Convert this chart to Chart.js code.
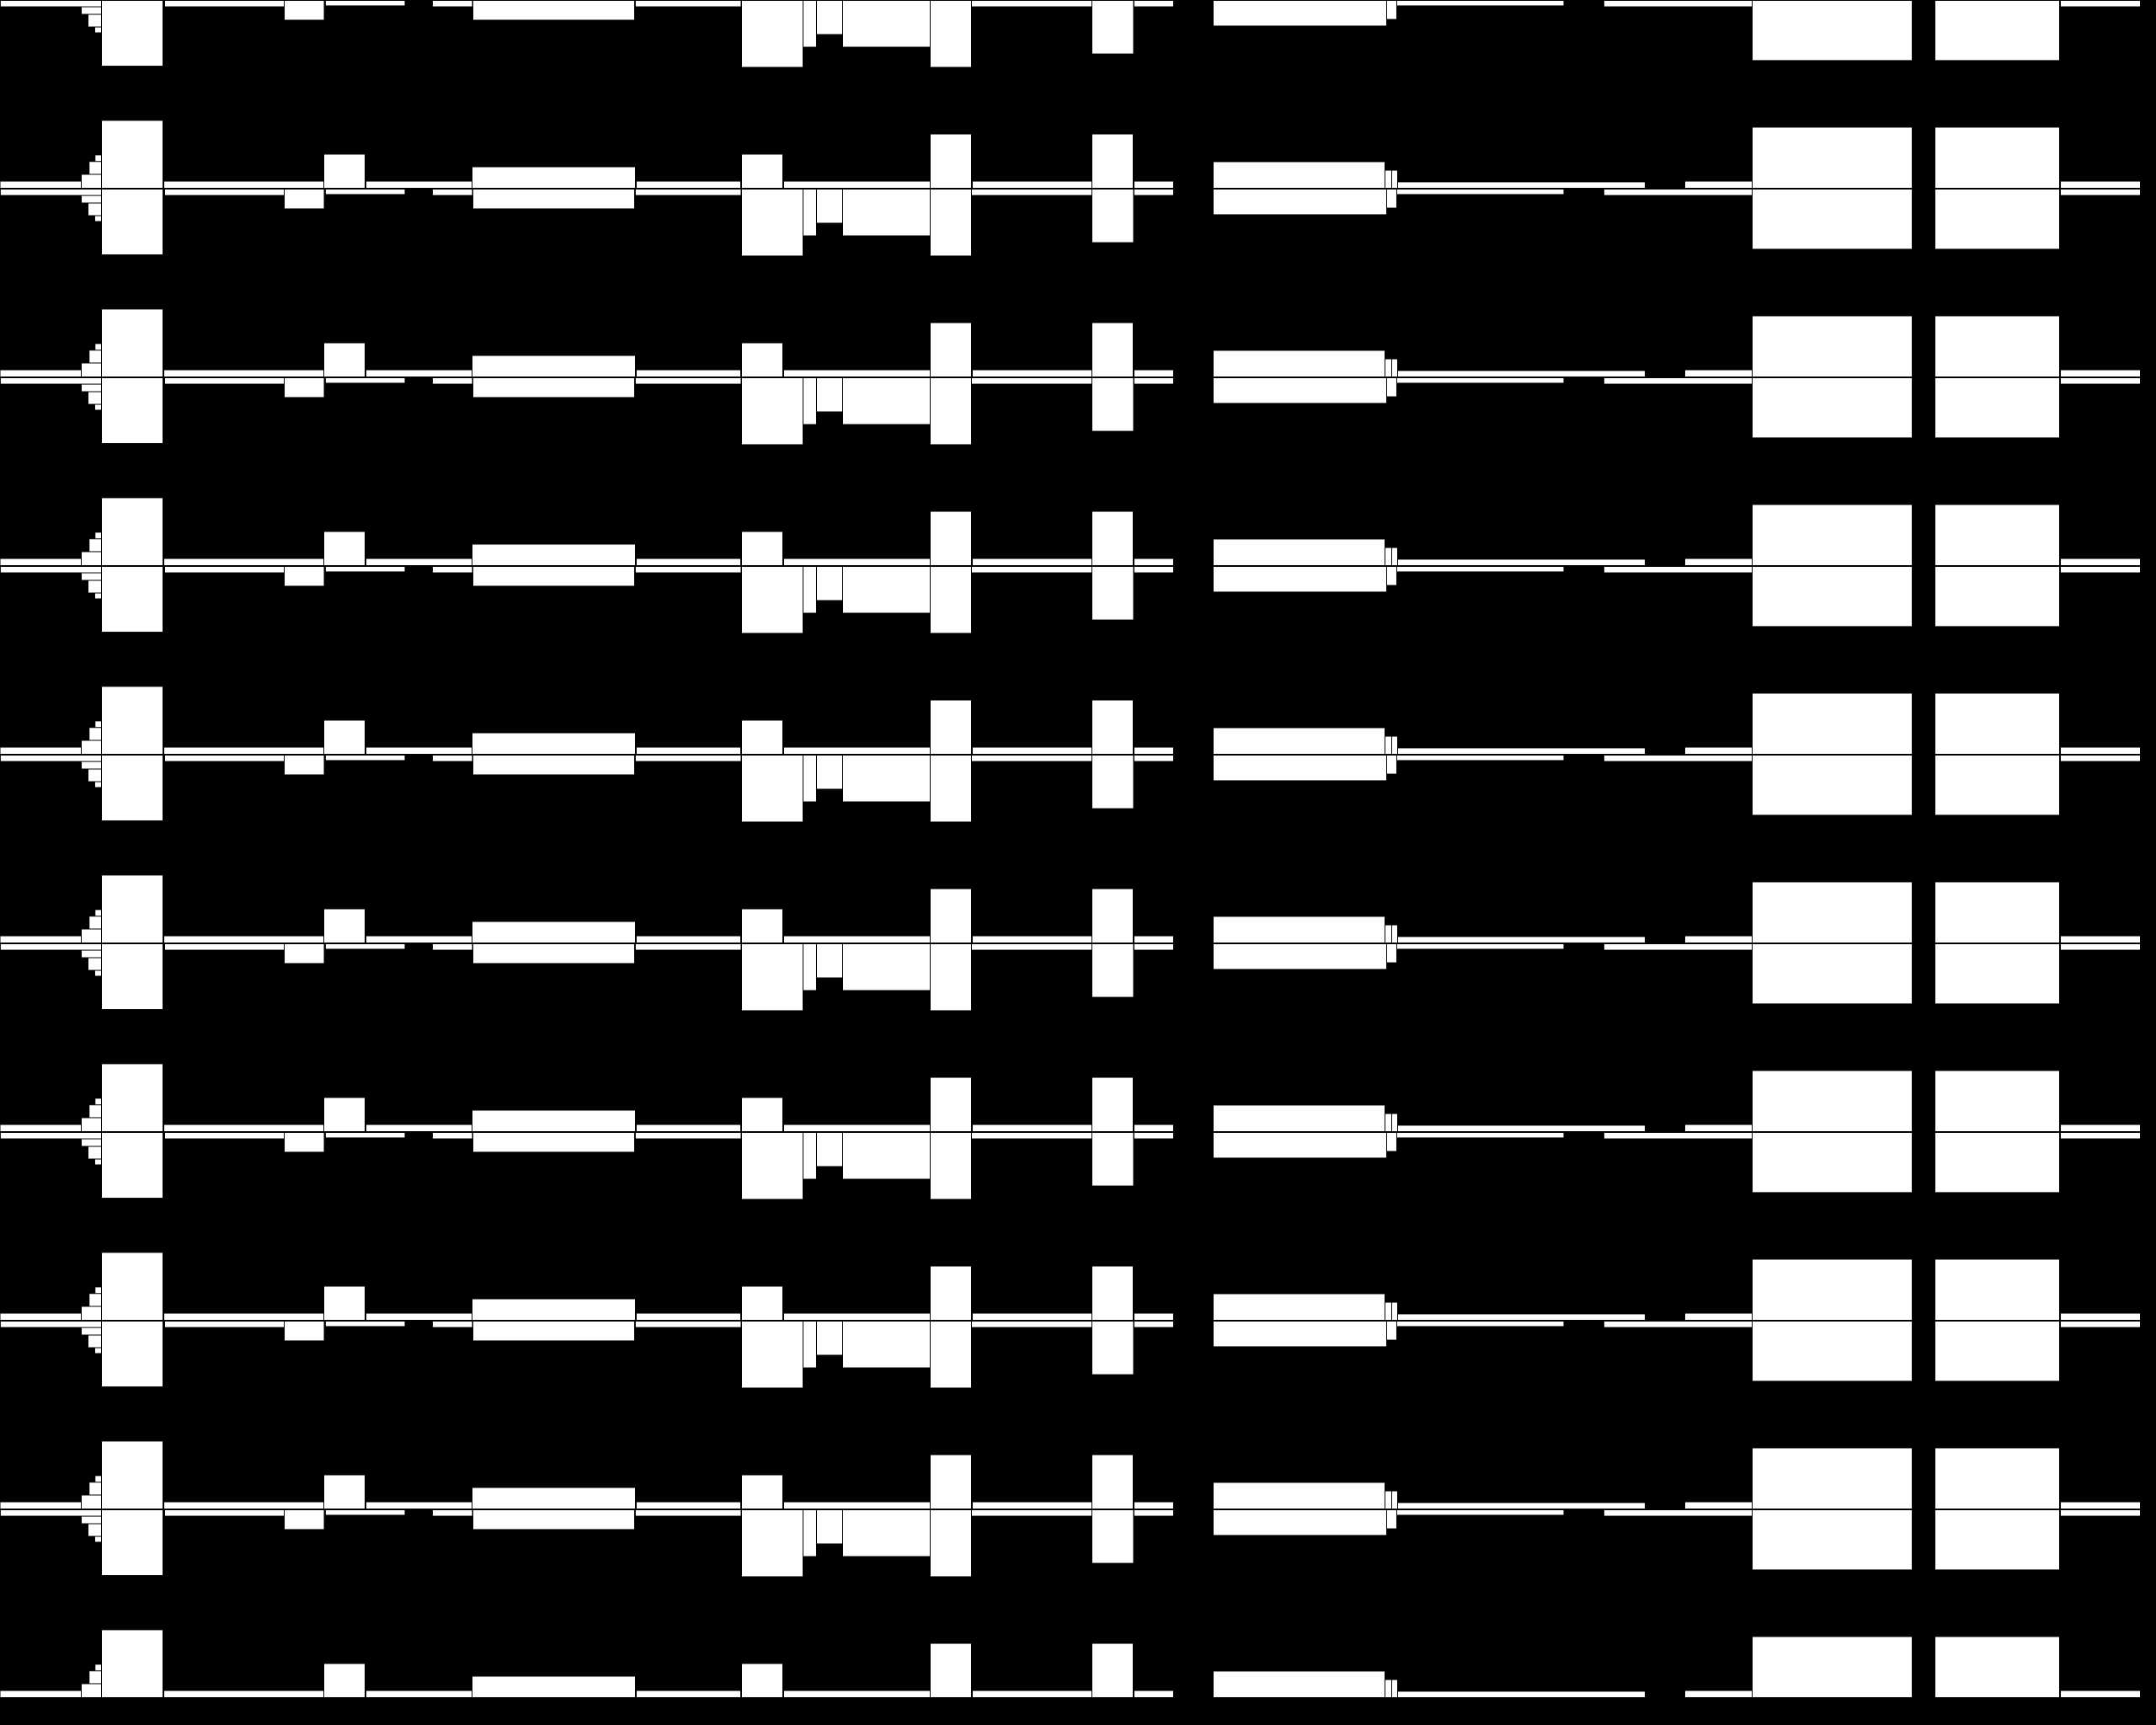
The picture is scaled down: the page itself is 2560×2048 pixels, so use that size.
<!DOCTYPE html>
<html>
<head>
<meta charset="utf-8">
<script src="https://cdn.jsdelivr.net/npm/chart.js@4"></script>
<style>
  html, body { margin: 0; padding: 0; background: #000; }
  canvas { display: block; background: #000; }
</style>
</head>
<body>
<canvas id="chart" width="2560" height="2048"></canvas>
<script>
// ---- data ----
// nine identical panels stacked vertically
const panels = ['1', '2', '3', '4', '5', '6', '7', '8', '9'];

// upward bars: start, end (x units) and height (panel units, 0-100)
const upStart  = [0, 9.65, 10.58, 11.28, 12.05, 19.45, 38.45, 43.45, 56.05, 75.55, 88.05, 93.05, 110.45, 115.45, 129.65, 134.65, 144.05, 164.45, 165.25, 165.95, 200.05, 208.05, 229.75, 244.65];
const upEnd    = [9.65, 12.05, 12.05, 12.05, 19.35, 38.45, 43.35, 56.05, 75.45, 87.95, 92.95, 110.45, 115.35, 129.65, 134.55, 139.35, 164.45, 165.25, 165.95, 195.35, 208.05, 227.05, 244.55, 254.15];
const upHeight = [4.0, 7.6, 14.4, 17.9, 36.2, 4.0, 18.3, 4.0, 11.6, 4.0, 18.3, 4.0, 29.0, 4.0, 29.0, 4.0, 14.3, 9.8, 9.8, 3.6, 4.0, 32.6, 32.6, 4.0];

// downward bars: start, end (x units) and depth (panel units, 0-100)
const downStart = [0, 9.65, 10.45, 11.25, 12.05, 19.55, 33.75, 38.6, 51.3, 56.15, 75.4, 88.05, 95.35, 96.95, 100.05, 110.45, 115.35, 129.65, 134.65, 144.05, 164.65, 165.85, 190.4, 208.05, 229.75, 244.65];
const downEnd   = [12.05, 12.05, 12.05, 12.05, 19.35, 33.75, 38.5, 48.1, 56.1, 75.35, 88.0, 95.35, 96.95, 100.05, 110.45, 115.35, 129.65, 134.6, 139.35, 164.65, 165.85, 185.7, 208.05, 227.05, 244.55, 254.15];
const downDepth = [3.6, 7.6, 14.3, 17.4, 35.1, 3.6, 10.7, 3.1, 3.6, 10.7, 3.6, 35.7, 25.0, 18.3, 25.0, 35.7, 3.6, 28.6, 3.6, 13.8, 10.3, 3.1, 3.6, 32.1, 32.1, 3.6];

const xRange = [0, 256];
const panelRange = [0, 100];

// ---- build chart ----
function barOutline(x0, x1, v) {
  return [{x: x0, y: 0}, {x: x0, y: v}, {x: x1, y: v}, {x: x1, y: 0}];
}

const barStyle = {
  backgroundColor: '#ffffff',
  borderColor: '#000000',
  borderWidth: 1,
  fill: 'origin',
  pointRadius: 0,
  pointHoverRadius: 0,
  tension: 0
};

const scales = {
  x: {type: 'linear', min: xRange[0], max: xRange[1], display: false}
};
const datasets = [];

panels.forEach((p, k) => {
  const upId = 'up' + k;
  const downId = 'down' + k;
  scales[upId] = {type: 'linear', position: 'left', stack: 'panels', stackWeight: 1,
                  min: panelRange[0], max: panelRange[1], display: false};
  scales[downId] = {type: 'linear', position: 'right', stack: 'panels', stackWeight: 1,
                    min: panelRange[0], max: panelRange[1], reverse: true, display: false};

  upHeight.forEach((h, i) => {
    datasets.push(Object.assign({
      label: 'panel ' + p + ' up ' + (i + 1),
      yAxisID: upId,
      order: h,
      data: barOutline(upStart[i], upEnd[i], h)
    }, barStyle));
  });
  downDepth.forEach((d, i) => {
    datasets.push(Object.assign({
      label: 'panel ' + p + ' down ' + (i + 1),
      yAxisID: downId,
      order: d,
      data: barOutline(downStart[i], downEnd[i], d)
    }, barStyle));
  });
  [upId, downId].forEach(id => {
    datasets.push({
      label: 'panel ' + p + ' baseline',
      yAxisID: id,
      order: -1,
      data: [{x: xRange[0], y: 0}, {x: xRange[1], y: 0}],
      borderColor: '#000000',
      borderWidth: 2,
      fill: false,
      pointRadius: 0,
      pointHoverRadius: 0
    });
  });
});

new Chart(document.getElementById('chart'), {
  type: 'line',
  data: {datasets},
  options: {
    responsive: false,
    devicePixelRatio: 1,
    animation: false,
    events: [],
    layout: {padding: {left: 0, right: 0, top: 0, bottom: 32}},
    scales,
    plugins: {
      legend: {display: false},
      tooltip: {enabled: false}
    }
  }
});
</script>
</body>
</html>
